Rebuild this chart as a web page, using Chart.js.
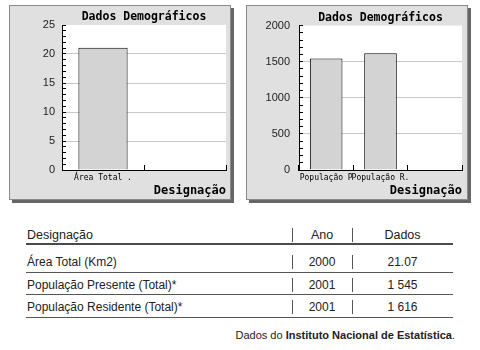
<!DOCTYPE html>
<html><head><meta charset="utf-8">
<script src="https://cdn.jsdelivr.net/npm/chart.js@4/dist/chart.umd.min.js"></script>
<style>
body{margin:0;width:480px;height:350px;background:#fff;position:relative;overflow:hidden;font-family:"Liberation Sans",Arial,sans-serif;color:#222}
.panel{position:absolute;top:5px;width:220px;height:193px;background:#e0e0e0;border:1px solid #8a8a8a;box-shadow:3px 3px 0 #666}
.panel canvas{display:block}
.t{position:absolute;white-space:nowrap;height:16px;line-height:16px;font-size:12px}
.hl{position:absolute;left:26px;width:427px;background:#555}
.sep{position:absolute;width:1px;height:14px;background:#555}
</style></head>
<body>
<div class="panel" style="left:9px"><canvas id="c1" width="220" height="193"></canvas></div>
<div class="panel" style="left:246px"><canvas id="c2" width="220" height="193"></canvas></div>
<div id="tbl"></div>
<div class="t" style="top:327px;right:25px;font-size:11px;color:#222">Dados do <b>Instituto Nacional de Estatística</b>.</div>
<script>
const chartTitle = 'Dados Demográficos';
const axisTitle = 'Designação';
const chart1Categories = ['Área Total .', ''];
const chart1Values = [21.07, null];
const chart1Max = 25, chart1Step = 1, chart1Major = 5;
const chart2Categories = ['População P', 'População R.', ''];
const chart2Values = [1545, 1616, null];
const chart2Max = 2000, chart2Step = 100, chart2Major = 500;

const tableHeader = ['Designação', 'Ano', 'Dados'];
const tableDesignacao = ['Área Total (Km2)', 'População Presente (Total)*', 'População Residente (Total)*'];
const tableAno = ['2000', '2001', '2001'];
const tableDados = ['21.07', '1 545', '1 616'];

const plotBg = {
  id: 'plotBg',
  beforeDraw(chart) {
    const a = chart.chartArea, ctx = chart.ctx;
    ctx.save(); ctx.fillStyle = '#fff';
    ctx.fillRect(a.left, a.top, a.right - a.left, a.bottom - a.top);
    ctx.restore();
  }
};

function makeChart(id, labels, values, maxV, step, major, yPad, rightPad) {
  new Chart(document.getElementById(id), {
    type: 'bar',
    plugins: [plotBg],
    data: { labels: labels, datasets: [{ data: values, backgroundColor: '#d3d3d3', borderColor: '#000', borderWidth: 1, barPercentage: 0.6, categoryPercentage: 1 }] },
    options: {
      responsive: false, animation: false,
      layout: { padding: { left: 0, right: rightPad, top: 0, bottom: 0 } },
      plugins: {
        legend: { display: false }, tooltip: { enabled: false },
        title: { display: true, text: chartTitle, fullSize: false, color: '#000',
          font: { family: 'DejaVu Sans Mono', size: 11.5, weight: 'bold', lineHeight: '14px' },
          padding: { top: 4, bottom: 1 } }
      },
      scales: {
        x: {
          grid: { offset: true, drawOnChartArea: false, tickLength: -5, color: '#000', tickColor: '#000' },
          border: { color: '#000', width: 1 },
          ticks: { autoSkip: false, maxRotation: 0, minRotation: 0, padding: 8, color: '#000',
            font: { family: 'DejaVu Sans Mono', size: 8 } },
          title: { display: true, text: axisTitle, align: 'end', color: '#000',
            font: { family: 'DejaVu Sans Mono', size: 12, weight: 'bold', lineHeight: '14px' },
            padding: { top: 0, bottom: 1 } },
          afterFit(s) { s.height = 29; }
        },
        y: {
          min: 0, max: maxV,
          grid: { tickLength: -4, tickColor: '#000',
            color: ctx => { const v = ctx.tick ? ctx.tick.value : 0; return (v % major === 0 && v !== 0 && v !== maxV) ? '#c8c8c8' : 'rgba(0,0,0,0)'; } },
          border: { color: '#000', width: 1 },
          ticks: { stepSize: step, autoSkip: false, padding: yPad, color: '#222',
            font: { family: 'Liberation Sans', size: 11 },
            callback: v => (v % major === 0 ? String(v) : '') },
          afterFit(s) { s.width = 52; }
        }
      }
    }
  });
}
makeChart('c1', chart1Categories, chart1Values, chart1Max, chart1Step, chart1Major, 11, 4);
makeChart('c2', chart2Categories, chart2Values, chart2Max, chart2Step, chart2Major, 13, 5);

// table
const tbl = document.getElementById('tbl');
function add(html) { tbl.insertAdjacentHTML('beforeend', html); }
function row(cells, c, size) {
  const top = c - 8;
  add(`<div class="t" style="left:27px;top:${top}px;font-size:${size}px">${cells[0]}</div>`);
  add(`<div class="t" style="left:292px;width:60px;text-align:center;top:${top}px;font-size:${size}px">${cells[1]}</div>`);
  add(`<div class="t" style="left:352px;width:101px;text-align:center;top:${top}px;font-size:${size}px">${cells[2]}</div>`);
  add(`<div class="sep" style="left:292px;top:${c - 7}px"></div>`);
  add(`<div class="sep" style="left:352px;top:${c - 7}px"></div>`);
}
row(tableHeader, 235, 12.5);
add('<div class="hl" style="top:243px;height:2px;background:#4a4a4a"></div>');
const centers = [262, 285, 307];
const lines = [272, 294, 317];
for (let i = 0; i < tableDesignacao.length; i++) {
  row([tableDesignacao[i], tableAno[i], tableDados[i]], centers[i], 12);
  add(`<div class="hl" style="top:${lines[i]}px;height:1px"></div>`);
}
</script>
</body></html>
